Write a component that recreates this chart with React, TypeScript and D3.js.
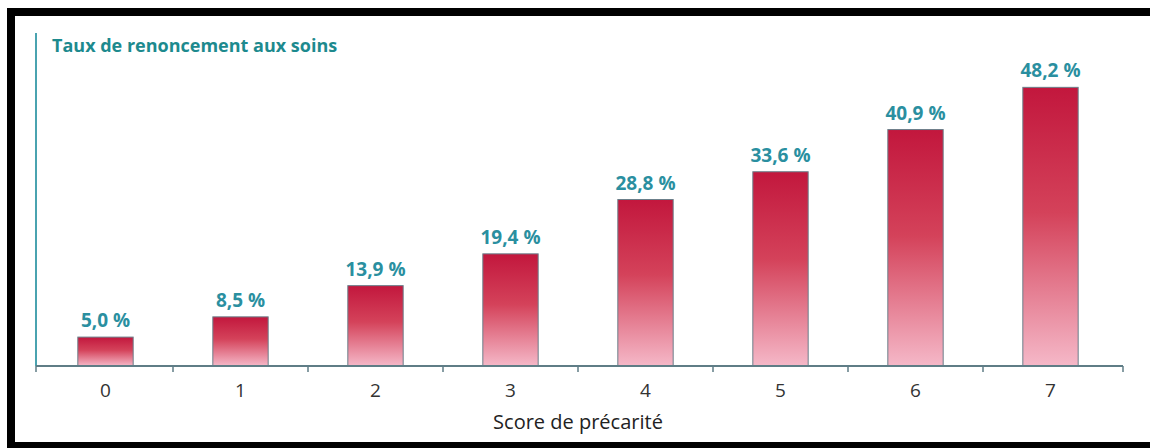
import React from "react";
import * as d3 from "d3";

const categories = ["0", "1", "2", "3", "4", "5", "6", "7"];
const values = [5.0, 8.5, 13.9, 19.4, 28.8, 33.6, 40.9, 48.2];
const valueLabels = ["5,0 %", "8,5 %", "13,9 %", "19,4 %", "28,8 %", "33,6 %", "40,9 %", "48,2 %"];
const title = "Taux de renoncement aux soins";
const xTitle = "Score de précarité";

export default function App() {
  const W = 1150;
  const H = 448;
  const baseY = 366;
  const topY = 33;
  const x = d3.scaleBand<string>().domain(categories).range([38, 1118]).paddingInner(0.59).paddingOuter(0.295);
  const y = d3.scaleLinear().domain([0, 57.6]).range([baseY, topY]);
  const step = x.step();
  const x0 = 38;
  const tickXs = d3.range(categories.length + 1).map((i) => (i === categories.length ? 1123 : i === 0 ? 36 : x0 + step * i));
  const teal = "#2a8fa0";
  const font = "'Open Sans', sans-serif";

  return (
    <svg width={W} height={H} style={{ position: "fixed", left: 0, top: 0, background: "#fff" }}>
      <defs>
        <linearGradient id="barGrad" x1="0" y1="0" x2="0" y2="1">
          <stop offset="0%" stopColor="#c2173d" />
          <stop offset="45%" stopColor="#d4425a" />
          <stop offset="100%" stopColor="#f5b8c8" />
        </linearGradient>
      </defs>
      <rect x={0} y={0} width={W} height={H} fill="#fff" />
      {/* black frame */}
      <rect x={7} y={8} width={W - 7} height={8} fill="#000" />
      <rect x={7} y={8} width={8} height={H - 8} fill="#000" />
      <rect x={7} y={442} width={W - 7} height={6} fill="#000" />

      {/* y axis line */}
      <line x1={36} x2={36} y1={topY} y2={baseY} stroke="#4aa3b0" strokeWidth={2} />
      <text x={52} y={52} fontFamily={font} fontWeight={700} fontSize={18} fill="#1d8a8e">
        {title}
      </text>

      {/* bars */}
      {values.map((v, i) => (
        <g key={i}>
          <rect
            x={x(categories[i])!}
            y={y(v)}
            width={x.bandwidth()}
            height={baseY - y(v)}
            fill="url(#barGrad)"
            stroke="#6b7f8a"
            strokeWidth={1}
          />
          <text
            x={x(categories[i])! + x.bandwidth() / 2}
            y={y(v) - 10}
            textAnchor="middle"
            fontFamily={font}
            fontWeight={700}
            fontSize={19}
            fill={teal}
          >
            {valueLabels[i]}
          </text>
        </g>
      ))}

      {/* x axis */}
      <line x1={36} x2={1123} y1={baseY} y2={baseY} stroke="#5f7d86" strokeWidth={2} />
      {tickXs.map((tx, i) => (
        <line key={i} x1={tx} x2={tx} y1={baseY} y2={baseY + 6} stroke="#5f7d86" strokeWidth={1.5} />
      ))}
      {categories.map((c) => (
        <text
          key={c}
          x={x(c)! + x.bandwidth() / 2}
          y={397}
          textAnchor="middle"
          fontFamily={font}
          fontSize={19}
          fill="#333"
        >
          {c}
        </text>
      ))}
      <text x={578} y={429} textAnchor="middle" fontFamily={font} fontSize={20} fill="#222">
        {xTitle}
      </text>
    </svg>
  );
}
